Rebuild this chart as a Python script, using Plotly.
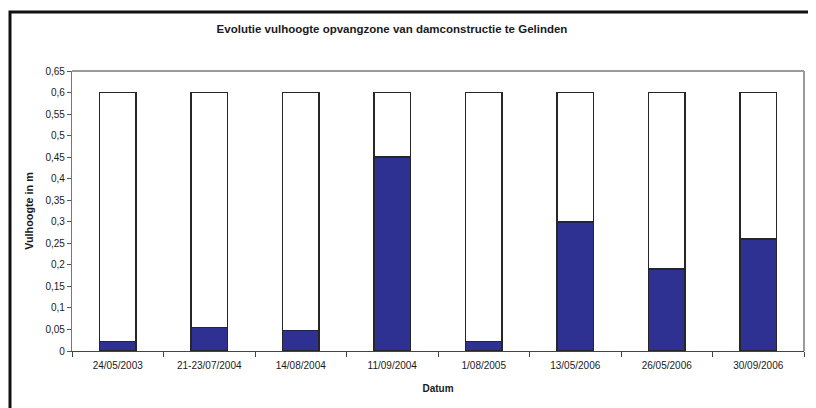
import plotly.graph_objects as go

dates = ["24/05/2003", "21-23/07/2004", "14/08/2004", "11/09/2004",
         "1/08/2005", "13/05/2006", "26/05/2006", "30/09/2006"]
fill_height = [0.022, 0.055, 0.048, 0.45, 0.022, 0.30, 0.19, 0.26]
capacity = [0.6] * len(dates)
remaining = [c - f for c, f in zip(capacity, fill_height)]

BLUE = "#2E3192"
OUTLINE = "#262626"
FONT = "Liberation Sans, Arial, sans-serif"

# the page body adds an 8px offset, so figure coords = screen coords - 8
OFF = 8
L, T = 72 - OFF, 71 - OFF
R = 816 - (804 - OFF)
B = 408 - (351 - OFF)
W, H = 816 - L - R, 408 - T - B

fig = go.Figure()
fig.add_trace(go.Bar(x=dates, y=fill_height, name="Vulhoogte",
                     marker=dict(color=BLUE, line=dict(color=OUTLINE, width=1.6))))
fig.add_trace(go.Bar(x=dates, y=remaining, name="Rest",
                     marker=dict(color="white", line=dict(color=OUTLINE, width=1.6))))

fig.update_layout(
    width=816, height=408,
    barmode="stack", bargap=0.6,
    showlegend=False,
    separators=",.",
    paper_bgcolor="white", plot_bgcolor="white",
    margin=dict(l=L, r=R, t=T, b=B),
    font=dict(family=FONT, size=10, color="#1a1a1a"),
    title=dict(text="<b>Evolutie vulhoogte opvangzone van damconstructie te Gelinden</b>",
               x=(392 - OFF) / 816, xanchor="center", y=1 - (29 - OFF) / 408, yanchor="middle",
               font=dict(family=FONT, size=11.5, color="#1a1a1a")),
    xaxis=dict(
        title=dict(text="<b>Datum</b>", font=dict(family=FONT, size=10), standoff=14),
        showline=True, linecolor="#444444", linewidth=1.3, mirror=False,
        ticks="outside", tickson="boundaries", ticklen=5, tickcolor="#444444",
        ticklabelstandoff=5,
        tickfont=dict(family=FONT, size=10), showgrid=False,
    ),
    yaxis=dict(
        title=dict(text="<b>Vulhoogte in m</b>", font=dict(family=FONT, size=10.8), standoff=9),
        range=[0, 0.65], dtick=0.05, tick0=0,
        showline=True, linecolor="#777777", linewidth=1.2, mirror=False,
        ticks="outside", ticklen=4, tickcolor="#555555",
        tickfont=dict(family=FONT, size=10), showgrid=False, zeroline=False,
    ),
    shapes=[
        dict(type="line", xref="paper", yref="paper", x0=0, x1=1, y0=1, y1=1,
             line=dict(color="#9a9a9a", width=2)),
        dict(type="line", xref="paper", yref="paper", x0=1, x1=1, y0=0, y1=1,
             line=dict(color="#9a9a9a", width=2)),
        dict(type="rect", xref="paper", yref="paper",
             x0=(10 - OFF - L) / W, x1=(840 - L) / W,
             y0=-(B + 30) / H, y1=1 + (T - (12 - OFF)) / H,
             line=dict(color="#111111", width=3)),
    ],
)

fig.write_html("out.html")
